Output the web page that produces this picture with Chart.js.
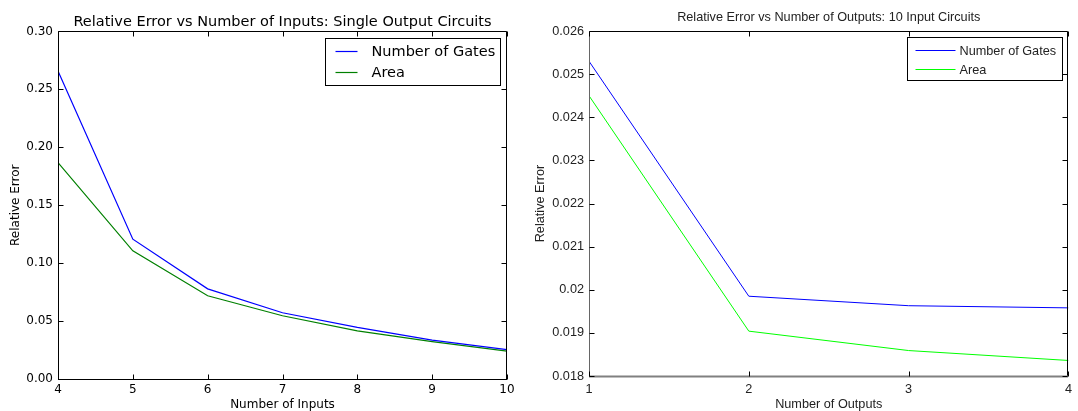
<!DOCTYPE html>
<html>
<head>
<meta charset="utf-8">
<title>Relative Error</title>
<script src="https://cdn.jsdelivr.net/npm/chart.js@4.4.1/dist/chart.umd.min.js"></script>
<style>
  body { margin: 0; background: #fff; width: 1078px; height: 411px; overflow: hidden; position: relative; }
  .panel { position: absolute; top: 0; height: 411px; }
  #leftPanel { left: 0; width: 520px; }
  #rightPanel { left: 520px; width: 558px; }
</style>
</head>
<body>
<div class="panel" id="leftPanel"><canvas id="inputsChart"></canvas></div>
<div class="panel" id="rightPanel"><canvas id="outputsChart"></canvas></div>
<script>
// Single output circuits, error against number of inputs
const inputCounts = [4, 5, 6, 7, 8, 9, 10];
const gatesErrByInputs = [0.2658, 0.1207, 0.0778, 0.0572, 0.0445, 0.0336, 0.0253];
const areaErrByInputs = [0.1867, 0.1106, 0.0718, 0.0546, 0.0416, 0.0322, 0.0241];
const inputsYTicks = [0, 0.05, 0.10, 0.15, 0.20, 0.25, 0.30];

// 10 input circuits, error against number of outputs
const outputCounts = [1, 2, 3, 4];
const gatesErrByOutputs = [0.0253, 0.01985, 0.01963, 0.01958];
const areaErrByOutputs = [0.0245, 0.01904, 0.01859, 0.01836];
const outputsYTicks = [0.018, 0.019, 0.020, 0.021, 0.022, 0.023, 0.024, 0.025, 0.026];

const seriesNames = ['Number of Gates', 'Area'];

function toPoints(xs, ys) {
  return xs.map((x, i) => ({ x: x, y: ys[i] }));
}

function segment(ctx, x1, y1, x2, y2, color, width) {
  ctx.beginPath();
  ctx.strokeStyle = color;
  ctx.lineWidth = width;
  ctx.moveTo(x1, y1);
  ctx.lineTo(x2, y2);
  ctx.stroke();
}

// box round the plot area with short inward ticks on every side
const framePlugin = {
  id: 'frame',
  afterDatasetsDraw(chart, args, opts) {
    const { ctx, chartArea: a, scales } = chart;
    const len = opts.tickLength;
    const l = Math.round(a.left) + 0.5, r = Math.round(a.right) - 0.5;
    const t = Math.round(a.top) + 0.5, b = Math.round(a.bottom) + 0.5;
    ctx.save();
    segment(ctx, l, t, r, t, opts.color, 1);
    segment(ctx, r, t, r, b, opts.color, 1);
    segment(ctx, l, t, l, b, opts.leftColor || opts.color, 1);
    segment(ctx, l - 0.5, b, r + 0.5, b, opts.bottomColor || opts.color, opts.bottomWidth || 1);
    scales.x.ticks.forEach(tk => {
      const px = Math.round(scales.x.getPixelForValue(tk.value)) + 0.5;
      segment(ctx, px, b, px, b - len, opts.tickColor, 1);
      segment(ctx, px, t, px, t + len, opts.tickColor, 1);
    });
    scales.y.ticks.forEach(tk => {
      const py = Math.round(scales.y.getPixelForValue(tk.value)) + 0.5;
      segment(ctx, l, py, l + len, py, opts.tickColor, 1);
      segment(ctx, r, py, r - len, py, opts.tickColor, 1);
    });
    ctx.restore();
  }
};

// legend box drawn inside the upper right corner of the plot
const insetLegendPlugin = {
  id: 'insetLegend',
  afterDraw(chart, args, o) {
    const { ctx, chartArea: a } = chart;
    const sets = chart.data.datasets;
    ctx.save();
    ctx.font = o.font;
    const textW = Math.max(...sets.map(d => ctx.measureText(d.label).width));
    const w = Math.round(o.padLeft + o.sample + o.gap + textW + o.padRight);
    const h = o.firstRow + o.rowGap * (sets.length - 1) + o.lastPad;
    const x0 = Math.round(a.right - o.margin - w) + 0.5;
    const y0 = Math.round(a.top + o.margin) + 0.5;
    ctx.fillStyle = '#fff';
    ctx.fillRect(x0, y0, w, h);
    ctx.strokeStyle = o.borderColor;
    ctx.lineWidth = 1;
    ctx.strokeRect(x0, y0, w, h);
    ctx.textBaseline = 'middle';
    sets.forEach((d, i) => {
      const y = Math.round(y0 + o.firstRow + i * o.rowGap) + 0.5;
      segment(ctx, x0 + o.padLeft, y, x0 + o.padLeft + o.sample, y, d.borderColor, d.borderWidth);
      ctx.fillStyle = o.color;
      ctx.fillText(d.label, x0 + o.padLeft + o.sample + o.gap, y + 1);
    });
    ctx.restore();
  }
};

Chart.register(framePlugin, insetLegendPlugin);

const mplFont = 'DejaVu Sans';
const matFont = 'Liberation Sans';

new Chart(document.getElementById('inputsChart'), {
  type: 'line',
  data: {
    datasets: [{
      label: seriesNames[0],
      data: toPoints(inputCounts, gatesErrByInputs),
      borderColor: '#0000ff',
      borderWidth: 1.2
    }, {
      label: seriesNames[1],
      data: toPoints(inputCounts, areaErrByInputs),
      borderColor: '#008000',
      borderWidth: 1.2
    }]
  },
  options: {
    responsive: true,
    maintainAspectRatio: false,
    animation: false,
    layout: { padding: { top: 0, right: 13, bottom: 0, left: 0 } },
    elements: { point: { radius: 0 }, line: { tension: 0 } },
    scales: {
      x: {
        type: 'linear',
        min: 4,
        max: 10,
        grid: { display: false, drawTicks: false },
        border: { display: false },
        afterBuildTicks: s => { s.ticks = inputCounts.map(v => ({ value: v })); },
        afterFit: s => { s.height = 32; },
        ticks: { color: '#000', padding: 4, font: { family: mplFont, size: 12 }, callback: v => String(v) },
        title: { display: true, text: 'Number of Inputs', color: '#000', font: { family: mplFont, size: 12 }, padding: { top: 0, bottom: -1 } }
      },
      y: {
        min: 0,
        max: 0.30,
        grid: { display: false, drawTicks: false },
        border: { display: false },
        afterBuildTicks: s => { s.ticks = inputsYTicks.map(v => ({ value: v })); },
        afterFit: s => { s.width = 58; },
        ticks: { color: '#000', padding: 5, font: { family: mplFont, size: 12 }, callback: v => v.toFixed(2) },
        title: { display: true, text: 'Relative Error', color: '#000', font: { family: mplFont, size: 12 }, padding: { top: 9, bottom: 0 } }
      }
    },
    plugins: {
      legend: { display: false },
      tooltip: { enabled: false },
      title: {
        display: true,
        fullSize: false,
        text: 'Relative Error vs Number of Inputs: Single Output Circuits',
        color: '#000',
        font: { family: mplFont, size: 14.5, weight: 'normal' },
        padding: { top: 14, bottom: 0 }
      },
      frame: { color: '#000', tickColor: '#000', tickLength: 5 },
      insetLegend: {
        font: '14.5px "DejaVu Sans"', color: '#000', borderColor: '#000',
        margin: 7, padLeft: 10, sample: 22, gap: 14, padRight: 5,
        firstRow: 12, rowGap: 21, lastPad: 14
      }
    }
  }
});

new Chart(document.getElementById('outputsChart'), {
  type: 'line',
  data: {
    datasets: [{
      label: seriesNames[0],
      data: toPoints(outputCounts, gatesErrByOutputs),
      borderColor: '#0000ff',
      borderWidth: 1
    }, {
      label: seriesNames[1],
      data: toPoints(outputCounts, areaErrByOutputs),
      borderColor: '#00ff00',
      borderWidth: 1
    }]
  },
  options: {
    responsive: true,
    maintainAspectRatio: false,
    animation: false,
    layout: { padding: { top: 0, right: 8, bottom: 0, left: 0 } },
    elements: { point: { radius: 0 }, line: { tension: 0 } },
    scales: {
      x: {
        type: 'linear',
        min: 1,
        max: 4,
        grid: { display: false, drawTicks: false },
        border: { display: false },
        afterBuildTicks: s => { s.ticks = outputCounts.map(v => ({ value: v })); },
        afterFit: s => { s.height = 35; },
        ticks: { color: '#222', padding: 6, font: { family: matFont, size: 12.7 }, callback: v => String(v) },
        title: { display: true, text: 'Number of Outputs', color: '#222', font: { family: matFont, size: 12.7 }, padding: { top: 0, bottom: -1 } }
      },
      y: {
        min: 0.018,
        max: 0.026,
        grid: { display: false, drawTicks: false },
        border: { display: false },
        afterBuildTicks: s => { s.ticks = outputsYTicks.map(v => ({ value: v })); },
        afterFit: s => { s.width = 69; },
        ticks: { color: '#222', padding: 5, font: { family: matFont, size: 12.7 }, callback: v => String(+v.toFixed(3)) },
        title: { display: true, text: 'Relative Error', color: '#222', font: { family: matFont, size: 12.7 }, padding: { top: 13, bottom: 0 } }
      }
    },
    plugins: {
      legend: { display: false },
      tooltip: { enabled: false },
      title: {
        display: true,
        fullSize: false,
        text: 'Relative Error vs Number of Outputs: 10 Input Circuits',
        color: '#222',
        font: { family: matFont, size: 12.7, weight: 'normal' },
        padding: { top: 9.4, bottom: 6.4 }
      },
      frame: { color: '#000', leftColor: '#666', bottomColor: '#808080', bottomWidth: 2, tickColor: '#000', tickLength: 5 },
      insetLegend: {
        font: '12.7px "Liberation Sans"', color: '#222', borderColor: '#000',
        margin: 6, padLeft: 8, sample: 40, gap: 4, padRight: 6,
        firstRow: 12, rowGap: 19, lastPad: 12
      }
    }
  }
});
</script>
</body>
</html>
